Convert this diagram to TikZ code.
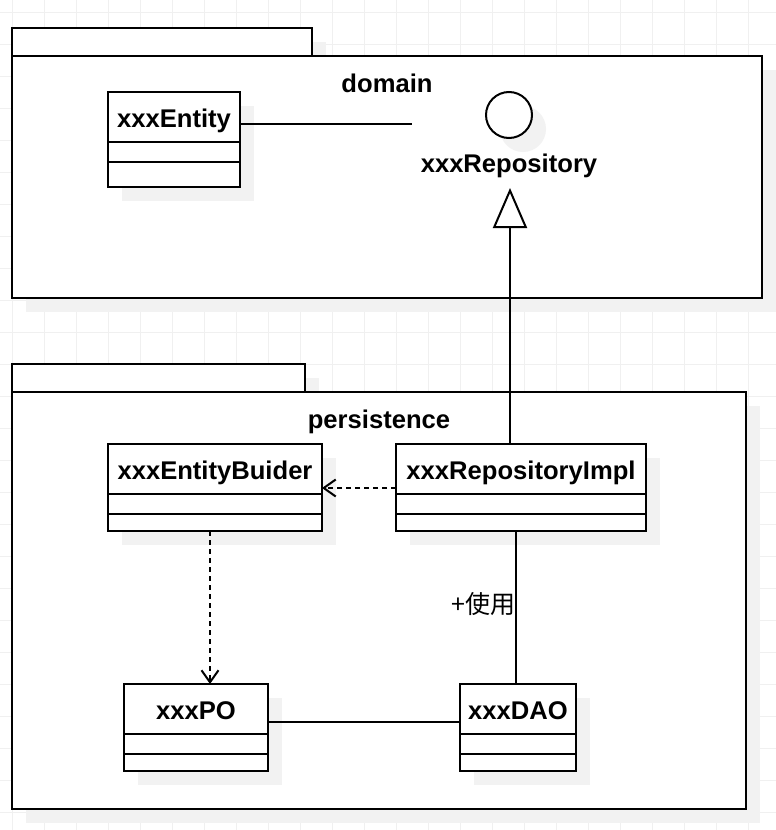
\documentclass[tikz,border=0pt]{standalone}
\usepackage{fontspec}
\setmainfont{Liberation Sans}
\newfontfamily\cjk{Noto Sans CJK SC}
\usetikzlibrary{arrows.meta,calc}
\definecolor{shadowc}{HTML}{F2F2F2}
\definecolor{gridc}{HTML}{F0F0F0}
\tikzset{
  ln/.style={line width=2pt, draw=black},
  clsbox/.style={ln, fill=white, rectangle, inner sep=0pt, outer sep=0pt},
  ttl/.style={font=\bfseries\fontsize{25.6}{30}\selectfont, inner sep=0pt, anchor=base},
  lbl/.style={font=\cjk\fontsize{25}{30}\selectfont, inner sep=0pt},
  dep/.style={ln, dash pattern=on 5pt off 4pt, -{Straight Barb[length=12pt,width=17pt]}},
  real/.style={ln, -{Triangle[open,length=40pt,width=34pt]}},
}
\newcommand\umlcls[6]{%
  \fill[shadowc] ({#2+14},{-#3-14}) rectangle ++(#4,-#5);
  \node[clsbox, minimum width=#4pt, minimum height=#5pt, anchor=north west] (#1) at (#2,-#3) {};
  \node[ttl] (#1-t) at ({#2+#4/2},{-#3-35}) {#6};
  \draw[ln] ({#2},{-#3-50}) -- ++(#4,0);
  \draw[ln] ({#2},{-#3-70}) -- ++(#4,0);
}
\begin{document}
\begin{tikzpicture}[x=1pt,y=1pt]
\useasboundingbox (0,0) rectangle (776,-830);
\fill[white] (0,0) rectangle (776,-830);
% grid
\foreach \g in {12,44,...,780} {
  \draw[gridc, line width=1pt] (\g,0) -- (\g,-830);
}
\foreach \g in {12,44,...,830} {
  \draw[gridc, line width=1pt] (0,-\g) -- (776,-\g);
}
% domain package
\fill[shadowc] (26,-42) rectangle (326,-70);
\fill[shadowc] (26,-70) rectangle (776,-312);
\node[clsbox, minimum width=300pt, minimum height=28pt, anchor=north west] (domtab) at (12,-28) {};
\node[clsbox, minimum width=750pt, minimum height=242pt, anchor=north west] (dom) at (12,-56) {};
\node[ttl] (domlbl) at (387,-92) {domain};
% entity
\umlcls{ent}{108}{92}{132}{95}{xxxEntity}
% repository interface
\fill[shadowc] (523,-129) circle (23);
\node[ln, circle, fill=white, minimum size=46pt, inner sep=0pt] (repo) at (509,-115) {};
\node[ttl] (repolbl) at (509,-172) {xxxRepository};
\coordinate (assocEnd) at (412,-124);
\draw[ln] (ent.east |- assocEnd) -- (assocEnd);
% persistence package
\fill[shadowc] (26,-378) rectangle (319,-406);
\fill[shadowc] (26,-406) rectangle (760,-823);
\node[clsbox, minimum width=293pt, minimum height=28pt, anchor=north west] (pertab) at (12,-364) {};
\node[clsbox, minimum width=734pt, minimum height=417pt, anchor=north west] (per) at (12,-392) {};
\node[ttl] (perlbl) at (379,-428) {persistence};
% classes
\umlcls{bld}{108}{444}{214}{87}{xxxEntityBuider}
\umlcls{impl}{396}{444}{250}{87}{xxxRepositoryImpl}
\umlcls{po}{124}{684}{144}{87}{xxxPO}
\umlcls{dao}{460}{684}{116}{87}{xxxDAO}
% connectors
\coordinate (repoTip) at (510,-188);
\draw[real] (impl.north -| repoTip) -- (repoTip);
\coordinate (depY) at (0,-488);
\draw[dep] (impl.west |- depY) -- (bld.east |- depY);
\coordinate (depX) at (210,0);
\draw[dep] (bld.south -| depX) -- (po.north -| depX);
\coordinate (useX) at (516,0);
\draw[ln] (impl.south -| useX) -- (dao.north -| useX);
\node[lbl, anchor=base east] (uselbl) at (516,-613) {+使用};
\coordinate (asY) at (0,-722);
\draw[ln] (po.east |- asY) -- (dao.west |- asY);
\end{tikzpicture}
\end{document}
